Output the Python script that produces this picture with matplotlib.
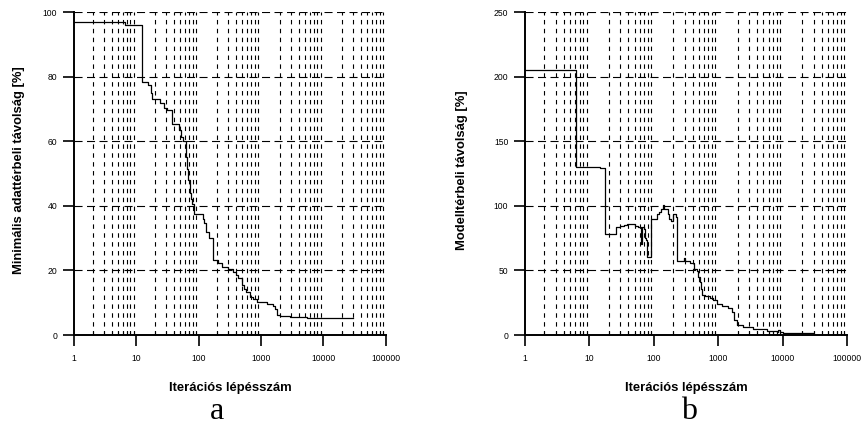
import numpy as np
import matplotlib.pyplot as plt
from matplotlib.ticker import LogLocator, FixedLocator, FixedFormatter, NullFormatter

plt.rcParams['font.family'] = ['Liberation Sans', 'DejaVu Sans']
plt.rcParams['lines.scale_dashes'] = False

# (a) minimal data-space distance, step curve: iteration where a level starts, level [%]
a_iter = [1, 6.5, 12.3, 15.2, 17.1, 18, 23.9, 28, 31, 36.7, 48.2, 52, 56, 62, 64, 68,
          72, 74, 78, 84, 115, 121, 133, 147, 168, 205, 232, 297, 357, 400, 430,
          486, 530, 571, 661, 750, 847, 1225, 1564, 1700, 1771, 2000, 2890, 5370,
          8000, 29500]
a_dist = [97, 96, 78.3, 77.4, 75, 73, 71.7, 70.2, 69.7, 65.5, 63.6, 61.4, 60, 55,
          51.5, 48, 44, 42, 40.5, 37.5, 36, 34.6, 32, 30, 23.2, 22.2, 21.1, 20.3,
          19.6, 18.5, 17.5, 15.5, 14.2, 13.4, 11.9, 11, 10.3, 9.6, 9.0, 8, 6.2, 6.0,
          5.7, 5.4, 5.2, 5.2]

# (b) model-space distance
b_iter = [1, 6.2, 14.6, 17.4, 25.5, 29.8, 34, 37.8, 50.8, 57, 64, 65.5, 70, 72.8, 76,
          79, 89, 113, 120, 127, 137, 142, 163, 172, 184, 200, 220, 225, 295, 305,
          363, 420, 460, 480, 510, 530, 551, 620, 741, 832, 942, 1123, 1426, 1608,
          1747, 1923, 2438, 3484, 5610, 8020, 8400, 8900, 10160, 13000, 29700]
b_dist = [205, 130.3, 129.3, 77.9, 83.3, 84.4, 85.2, 85.6, 84.6, 83.8, 70.2, 83.5, 82,
          74.8, 73.6, 60.1, 89.5, 93.4, 95.5, 97.5, 100.5, 97.5, 93.9, 90, 88.5, 93.6,
          91, 57.3, 60, 57.3, 55.5, 51, 49.8, 45, 41.3, 36, 31, 30, 28.5, 27.1, 24,
          22.7, 21.1, 18.1, 11.6, 7.7, 5.9, 4.4, 3.4, 2.6, 3.8, 2.4, 1.8, 1.3, 1.3]

x_ticks = [1, 10, 100, 1000, 10000, 100000]
x_labels = ['1', '10', '100', '1000', '10000', '100000']
a_yticks = [0, 20, 40, 60, 80, 100]
b_yticks = [0, 50, 100, 150, 200, 250]

fig = plt.figure(figsize=(8.61, 4.26), dpi=100)
ax_a = fig.add_axes([0.086, 0.2136, 0.362, 0.758])
ax_b = fig.add_axes([0.6098, 0.2136, 0.3743, 0.758])


def style_axes(ax, yticks, ylabel, ylab_x):
    ax.set_xscale('log')
    ax.set_xlim(1, 100000)
    ax.set_ylim(yticks[0], yticks[-1])
    ax.xaxis.set_major_locator(FixedLocator(x_ticks))
    ax.xaxis.set_major_formatter(FixedFormatter(x_labels))
    ax.xaxis.set_minor_locator(LogLocator(base=10, subs=np.arange(2, 10)))
    ax.xaxis.set_minor_formatter(NullFormatter())
    ax.set_yticks(yticks)
    for side in ['top', 'right']:
        ax.spines[side].set_visible(False)
    for side in ['left', 'bottom']:
        ax.spines[side].set_linewidth(1.4)
    ax.tick_params(axis='x', which='major', direction='out', length=8, width=1.2,
                   pad=6, labelsize=6.2)
    ax.tick_params(axis='x', which='minor', direction='in', length=3, width=0.8)
    ax.tick_params(axis='y', direction='out', length=8, width=1.2, pad=4,
                   labelsize=6.2)
    # dashed grid: horizontals at y ticks, verticals at minor x ticks only
    ax.grid(True, which='major', axis='y', color='black', linewidth=0.8,
            dashes=(5.8, 3.2))
    ax.grid(True, which='minor', axis='x', color='black', linewidth=0.8,
            dashes=(3.2, 3.2))
    ax.set_axisbelow(True)
    ax.set_xlabel('Iterációs lépésszám', fontsize=9.4, fontweight='bold')
    ax.xaxis.set_label_coords(0.5, -0.145)
    ax.set_ylabel(ylabel, fontsize=9.4, fontweight='bold', va='center')
    ax.yaxis.set_label_coords(ylab_x, 0.51)


ax_a.plot(a_iter, a_dist, drawstyle='steps-post', color='black', linewidth=0.9)
style_axes(ax_a, a_yticks, 'Minimális adattérbeli távolság [%]', -0.178)

ax_b.plot(b_iter, b_dist, drawstyle='steps-post', color='black', linewidth=0.9)
style_axes(ax_b, b_yticks, 'Modelltérbeli távolság [%]', -0.196)

# panel letters under each plot
fig.text(217 / 861, 7 / 426, 'a', fontsize=23, family='Liberation Serif',
         ha='center', va='baseline')
fig.text(689 / 861, 7 / 426, 'b', fontsize=23, family='Liberation Serif',
         ha='center', va='baseline')

fig.savefig('out.png', dpi=100)
